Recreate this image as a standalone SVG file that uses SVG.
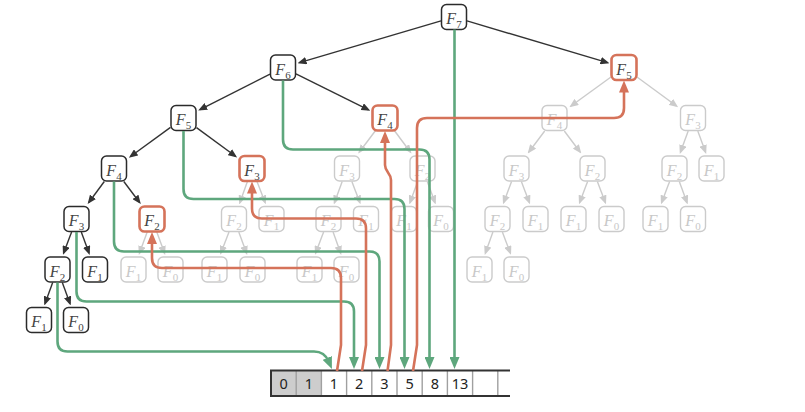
<svg xmlns="http://www.w3.org/2000/svg" width="805" height="412" viewBox="0 0 805 412">
<style>
.node rect{fill:#fff;stroke:#2b2b2b;stroke-width:1.5}
.node.hot rect{stroke:#d5735a;stroke-width:2.6}
.node.dim rect{stroke:#cbcbcb;stroke-width:1.4}
.node text{font-family:"Liberation Serif","DejaVu Serif",serif;font-style:italic;font-size:16px;fill:#444;text-anchor:middle}
.node text tspan{font-style:normal;font-size:11px}
.node.dim text{fill:#c8c8c8}
.edge{stroke:#333;stroke-width:1.4;fill:none;marker-end:url(#ah)}
.edge.dim{stroke:#cbcbcb;marker-end:url(#ahg)}
.flow{fill:none;stroke-width:2.6;stroke-linejoin:round}
.flow.g{stroke:#5ea77d;marker-end:url(#ahgreen)}
.flow.r{stroke:#d5735a;marker-end:url(#ahred)}
.cell{font-family:"Noto Sans","DejaVu Sans",sans-serif;font-size:14.5px;fill:#222;text-anchor:middle}
.div{stroke:#a0a0a0;stroke-width:1.4}
.outer{stroke:#333;stroke-width:2;fill:none}
</style>
<defs>
<marker id="ah" markerUnits="userSpaceOnUse" viewBox="0 0 9 7.5" refX="7" refY="3.75" markerWidth="9" markerHeight="7.5" orient="auto"><path d="M0,0 L9,3.75 L0,7.5 z" fill="#333"/></marker>
<marker id="ahg" markerUnits="userSpaceOnUse" viewBox="0 0 9 7.5" refX="7" refY="3.75" markerWidth="9" markerHeight="7.5" orient="auto"><path d="M0,0 L9,3.75 L0,7.5 z" fill="#cbcbcb"/></marker>
<marker id="ahgreen" markerUnits="userSpaceOnUse" viewBox="0 0 12 10" refX="4" refY="5" markerWidth="12" markerHeight="10" orient="auto"><path d="M0,0 L12,5 L0,10 z" fill="#5ea77d"/></marker>
<marker id="ahred" markerUnits="userSpaceOnUse" viewBox="0 0 12 10" refX="4" refY="5" markerWidth="12" markerHeight="10" orient="auto"><path d="M0,0 L12,5 L0,10 z" fill="#d5735a"/></marker>
</defs>

<g id="connectors">
<g id="tree-edges">
<line class="edge" x1="441" y1="20.8" x2="299.5" y2="62.6"/>
<line class="edge" x1="467" y1="20.9" x2="607.5" y2="62.6"/>
<line class="edge" x1="270" y1="74.1" x2="200" y2="109.6"/>
<line class="edge" x1="296" y1="73.9" x2="368.5" y2="109.8"/>
<line class="edge" x1="170.5" y1="127.4" x2="130.5" y2="156.5"/>
<line class="edge" x1="196.5" y1="127.6" x2="235.5" y2="156.3"/>
<line class="edge" x1="104.3" y1="181.5" x2="88.8" y2="202.5"/>
<line class="edge" x1="123.8" y1="181.5" x2="139.6" y2="202.5"/>
<line class="edge" x1="71.6" y1="232" x2="63.7" y2="253"/>
<line class="edge" x1="81.3" y1="232" x2="89" y2="253"/>
<line class="edge" x1="52.7" y1="282.5" x2="45" y2="303.5"/>
<line class="edge" x1="62.3" y1="282.5" x2="70" y2="303.5"/>
<line class="edge dim" x1="375.2" y1="131" x2="359.4" y2="152"/>
<line class="edge dim" x1="394.7" y1="131" x2="410.3" y2="152"/>
<line class="edge dim" x1="247.4" y1="181.5" x2="239.9" y2="202.5"/>
<line class="edge dim" x1="257" y1="181.5" x2="265.1" y2="202.5"/>
<line class="edge dim" x1="342.2" y1="181.5" x2="334.5" y2="202.5"/>
<line class="edge dim" x1="351.9" y1="181.5" x2="359.8" y2="202.5"/>
<line class="edge dim" x1="417.7" y1="181.5" x2="410" y2="202.5"/>
<line class="edge dim" x1="427.3" y1="181.5" x2="435" y2="202.5"/>
<line class="edge dim" x1="147.2" y1="232" x2="139.5" y2="253"/>
<line class="edge dim" x1="156.8" y1="232" x2="164.5" y2="253"/>
<line class="edge dim" x1="229" y1="232" x2="220.9" y2="253"/>
<line class="edge dim" x1="238.8" y1="232" x2="246.5" y2="253"/>
<line class="edge dim" x1="323.6" y1="232" x2="315.7" y2="253"/>
<line class="edge dim" x1="333.1" y1="232" x2="340.6" y2="253"/>
<line class="edge dim" x1="611" y1="77" x2="571" y2="106"/>
<line class="edge dim" x1="637" y1="77" x2="676.5" y2="106"/>
<line class="edge dim" x1="544.7" y1="131" x2="528.9" y2="152"/>
<line class="edge dim" x1="564.3" y1="131" x2="580.1" y2="152"/>
<line class="edge dim" x1="688.2" y1="131" x2="680.5" y2="152"/>
<line class="edge dim" x1="697.8" y1="131" x2="705.5" y2="152"/>
<line class="edge dim" x1="511.6" y1="181.5" x2="503.7" y2="202.5"/>
<line class="edge dim" x1="521.4" y1="181.5" x2="529.3" y2="202.5"/>
<line class="edge dim" x1="587.6" y1="181.5" x2="579.7" y2="202.5"/>
<line class="edge dim" x1="597.4" y1="181.5" x2="605.3" y2="202.5"/>
<line class="edge dim" x1="669.6" y1="181.5" x2="661.7" y2="202.5"/>
<line class="edge dim" x1="679.3" y1="181.5" x2="687" y2="202.5"/>
<line class="edge dim" x1="492.9" y1="232" x2="485.4" y2="253"/>
<line class="edge dim" x1="502.4" y1="232" x2="510.3" y2="253"/>
</g>
</g>

<g id="n-g1" class="node dim"><rect x="334.5" y="156" width="25" height="25" rx="5"/><text x="347" y="175.5">F<tspan dy="4.3">3</tspan></text></g>
<g id="n-g2" class="node dim"><rect x="410" y="156" width="25" height="25" rx="5"/><text x="422.5" y="175.5">F<tspan dy="4.3">2</tspan></text></g>
<g id="n-g3" class="node dim"><rect x="221.5" y="206.5" width="25" height="25" rx="5"/><text x="234" y="226">F<tspan dy="4.3">2</tspan></text></g>
<g id="n-g4" class="node dim"><rect x="259" y="206.5" width="25" height="25" rx="5"/><text x="271.5" y="226">F<tspan dy="4.3">1</tspan></text></g>
<g id="n-g5" class="node dim"><rect x="316" y="206.5" width="25" height="25" rx="5"/><text x="328.5" y="226">F<tspan dy="4.3">2</tspan></text></g>
<g id="n-g6" class="node dim"><rect x="353.5" y="206.5" width="25" height="25" rx="5"/><text x="366" y="226">F<tspan dy="4.3">1</tspan></text></g>
<g id="n-g7" class="node dim"><rect x="391.5" y="206.5" width="25" height="25" rx="5"/><text x="404" y="226">F<tspan dy="4.3">1</tspan></text></g>
<g id="n-g8" class="node dim"><rect x="428.5" y="206.5" width="25" height="25" rx="5"/><text x="441" y="226">F<tspan dy="4.3">0</tspan></text></g>
<g id="n-g9" class="node dim"><rect x="121" y="257" width="25" height="25" rx="5"/><text x="133.5" y="276.5">F<tspan dy="4.3">1</tspan></text></g>
<g id="n-g10" class="node dim"><rect x="158" y="257" width="25" height="25" rx="5"/><text x="170.5" y="276.5">F<tspan dy="4.3">0</tspan></text></g>
<g id="n-g11" class="node dim"><rect x="202" y="257" width="25" height="25" rx="5"/><text x="214.5" y="276.5">F<tspan dy="4.3">1</tspan></text></g>
<g id="n-g12" class="node dim"><rect x="240" y="257" width="25" height="25" rx="5"/><text x="252.5" y="276.5">F<tspan dy="4.3">0</tspan></text></g>
<g id="n-g13" class="node dim"><rect x="297" y="257" width="25" height="25" rx="5"/><text x="309.5" y="276.5">F<tspan dy="4.3">1</tspan></text></g>
<g id="n-g14" class="node dim"><rect x="334" y="257" width="25" height="25" rx="5"/><text x="346.5" y="276.5">F<tspan dy="4.3">0</tspan></text></g>
<g id="n-g15" class="node dim"><rect x="542" y="105.5" width="25" height="25" rx="5"/><text x="554.5" y="125">F<tspan dy="4.3">4</tspan></text></g>
<g id="n-g16" class="node dim"><rect x="680.5" y="105.5" width="25" height="25" rx="5"/><text x="693" y="125">F<tspan dy="4.3">3</tspan></text></g>
<g id="n-g17" class="node dim"><rect x="504" y="156" width="25" height="25" rx="5"/><text x="516.5" y="175.5">F<tspan dy="4.3">3</tspan></text></g>
<g id="n-g18" class="node dim"><rect x="580" y="156" width="25" height="25" rx="5"/><text x="592.5" y="175.5">F<tspan dy="4.3">2</tspan></text></g>
<g id="n-g19" class="node dim"><rect x="662" y="156" width="25" height="25" rx="5"/><text x="674.5" y="175.5">F<tspan dy="4.3">2</tspan></text></g>
<g id="n-g20" class="node dim"><rect x="699" y="156" width="25" height="25" rx="5"/><text x="711.5" y="175.5">F<tspan dy="4.3">1</tspan></text></g>
<g id="n-g21" class="node dim"><rect x="485" y="206.5" width="25" height="25" rx="5"/><text x="497.5" y="226">F<tspan dy="4.3">2</tspan></text></g>
<g id="n-g22" class="node dim"><rect x="523" y="206.5" width="25" height="25" rx="5"/><text x="535.5" y="226">F<tspan dy="4.3">1</tspan></text></g>
<g id="n-g23" class="node dim"><rect x="561" y="206.5" width="25" height="25" rx="5"/><text x="573.5" y="226">F<tspan dy="4.3">1</tspan></text></g>
<g id="n-g24" class="node dim"><rect x="599" y="206.5" width="25" height="25" rx="5"/><text x="611.5" y="226">F<tspan dy="4.3">0</tspan></text></g>
<g id="n-g25" class="node dim"><rect x="643" y="206.5" width="25" height="25" rx="5"/><text x="655.5" y="226">F<tspan dy="4.3">1</tspan></text></g>
<g id="n-g26" class="node dim"><rect x="680.5" y="206.5" width="25" height="25" rx="5"/><text x="693" y="226">F<tspan dy="4.3">0</tspan></text></g>
<g id="n-g27" class="node dim"><rect x="467" y="257" width="25" height="25" rx="5"/><text x="479.5" y="276.5">F<tspan dy="4.3">1</tspan></text></g>
<g id="n-g28" class="node dim"><rect x="504" y="257" width="25" height="25" rx="5"/><text x="516.5" y="276.5">F<tspan dy="4.3">0</tspan></text></g>

<g id="n-f7" class="node"><rect x="441.5" y="4.5" width="25" height="25" rx="5"/><text x="454" y="24">F<tspan dy="4.3">7</tspan></text></g>
<g id="n-f6" class="node"><rect x="270.5" y="55" width="25" height="25" rx="5"/><text x="283" y="74.5">F<tspan dy="4.3">6</tspan></text></g>
<g id="n-f5a" class="node"><rect x="171" y="105.5" width="25" height="25" rx="5"/><text x="183.5" y="125">F<tspan dy="4.3">5</tspan></text></g>
<g id="n-f4a" class="node"><rect x="101.5" y="156" width="25" height="25" rx="5"/><text x="114" y="175.5">F<tspan dy="4.3">4</tspan></text></g>
<g id="n-f3a" class="node"><rect x="64" y="206.5" width="25" height="25" rx="5"/><text x="76.5" y="226">F<tspan dy="4.3">3</tspan></text></g>
<g id="n-f2a" class="node"><rect x="45" y="257" width="25" height="25" rx="5"/><text x="57.5" y="276.5">F<tspan dy="4.3">2</tspan></text></g>
<g id="n-f1a" class="node"><rect x="82.5" y="257" width="25" height="25" rx="5"/><text x="95" y="276.5">F<tspan dy="4.3">1</tspan></text></g>
<g id="n-f1b" class="node"><rect x="26.5" y="307.5" width="25" height="25" rx="5"/><text x="39" y="327">F<tspan dy="4.3">1</tspan></text></g>
<g id="n-f0a" class="node"><rect x="63.5" y="307.5" width="25" height="25" rx="5"/><text x="76" y="327">F<tspan dy="4.3">0</tspan></text></g>
<g id="n-f5b" class="node hot"><rect x="611.5" y="55" width="25" height="25" rx="5"/><text x="624" y="74.5">F<tspan dy="4.3">5</tspan></text></g>
<g id="n-f4b" class="node hot"><rect x="372.5" y="105.5" width="25" height="25" rx="5"/><text x="385" y="125">F<tspan dy="4.3">4</tspan></text></g>
<g id="n-f3b" class="node hot"><rect x="239.5" y="156" width="25" height="25" rx="5"/><text x="252" y="175.5">F<tspan dy="4.3">3</tspan></text></g>
<g id="n-f2b" class="node hot"><rect x="139.5" y="206.5" width="25" height="25" rx="5"/><text x="152" y="226">F<tspan dy="4.3">2</tspan></text></g>

<g id="memo-array">
<rect x="271" y="370.5" width="50.4" height="25.5" fill="#cdcdcd"/>
<line class="div" x1="296.2" y1="371" x2="296.2" y2="396"/>
<line class="div" x1="321.4" y1="371" x2="321.4" y2="396"/>
<line class="div" x1="346.6" y1="371" x2="346.6" y2="396"/>
<line class="div" x1="371.8" y1="371" x2="371.8" y2="396"/>
<line class="div" x1="397" y1="371" x2="397" y2="396"/>
<line class="div" x1="422.2" y1="371" x2="422.2" y2="396"/>
<line class="div" x1="447.4" y1="371" x2="447.4" y2="396"/>
<line class="div" x1="472.6" y1="371" x2="472.6" y2="396"/>
<line class="div" x1="497.8" y1="371" x2="497.8" y2="396"/>
<path class="outer" d="M510 370.5 H271 V396 H510"/>
<text class="cell" x="283.6" y="389">0</text>
<text class="cell" x="308.8" y="389">1</text>
<text class="cell" x="334" y="389">1</text>
<text class="cell" x="359.2" y="389">2</text>
<text class="cell" x="384.4" y="389">3</text>
<text class="cell" x="409.6" y="389">5</text>
<text class="cell" x="434.8" y="389">8</text>
<text class="cell" x="460" y="389">13</text>
</g>

<g id="flows">
<path class="flow g" d="M57.5 282.5 V341.5 Q57.5 351.5 67.5 351.5 H314 C322 351.5 326 355 328.8 361.6"/>
<path class="flow g" d="M76.5 232 V291.5 Q76.5 301.5 86.5 301.5 H344 Q354 301.5 354 311.5 V361"/>
<path class="flow g" d="M114 181.5 V241.5 Q114 251.5 124 251.5 H369.5 Q379.5 251.5 379.5 261.5 V361"/>
<path class="flow g" d="M183.5 131 V189 Q183.5 199 193.5 199 H394.5 Q404.5 199 404.5 209 V361"/>
<path class="flow g" d="M283 80.5 V139.5 Q283 149.5 293 149.5 H419.5 Q429.5 149.5 429.5 159.5 V361"/>
<path class="flow g" d="M454.5 29.5 V361"/>
<path class="flow r" d="M337 371 L341 345 V278 Q341 268 331 268 H162 Q152 268 152 258 V240"/>
<path class="flow r" d="M362 371 L366 345 V228.5 Q366 218.5 356 218.5 H262 Q252 218.5 252 208.5 V189.5"/>
<path class="flow r" d="M387.5 371 L391 345 V180 C391 173 385 172 385 165 V139"/>
<path class="flow r" d="M413 371 L417 345 V128 Q417 118 427 118 H614 Q624 118 624 108 V88.5"/>
</g>
</svg>
